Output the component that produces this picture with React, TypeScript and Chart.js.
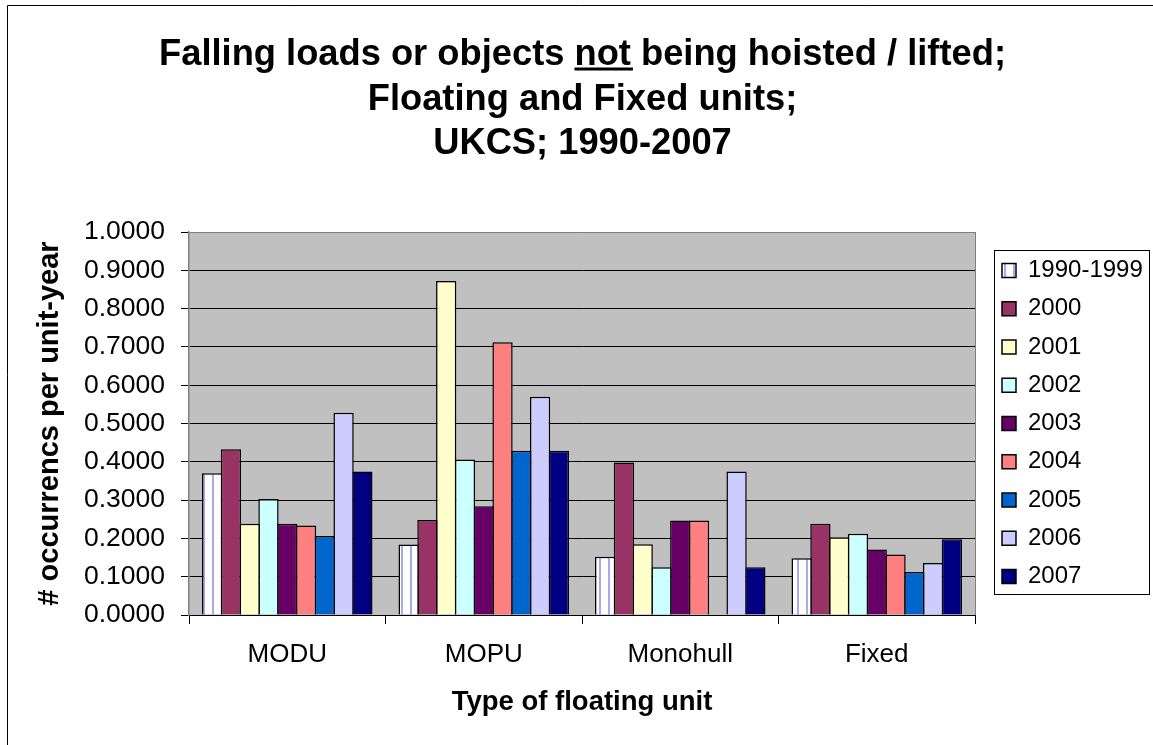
import React, { useEffect, useRef } from "react";
import { Chart, registerables } from "chart.js";

Chart.register(...registerables);

const FONT = "'Liberation Sans', Arial, sans-serif";

const TITLE_LINES = [
  "Falling loads or objects not being hoisted / lifted;",
  "Floating and Fixed units;",
  "UKCS; 1990-2007",
];
const UNDERLINED_WORD = "not";
const UNDERLINE_PREFIX = "Falling loads or objects ";

const CATEGORIES = ["MODU", "MOPU", "Monohull", "Fixed"];
const Y_TITLE = "# occurrencs per unit-year";
const X_TITLE = "Type of floating unit";

const SERIES_LABELS = ["1990-1999", "2000", "2001", "2002", "2003", "2004", "2005", "2006", "2007"];

const V_1990_1999 = [0.370, 0.184, 0.152, 0.148];
const V_2000 = [0.433, 0.248, 0.398, 0.238];
const V_2001 = [0.238, 0.872, 0.185, 0.203];
const V_2002 = [0.303, 0.406, 0.125, 0.212];
const V_2003 = [0.238, 0.284, 0.247, 0.171];
const V_2004 = [0.234, 0.712, 0.247, 0.158];
const V_2005 = [0.206, 0.429, null, 0.112];
const V_2006 = [0.528, 0.570, 0.375, 0.136];
const V_2007 = [0.375, 0.429, 0.125, 0.198];

const SERIES_VALUES = [V_1990_1999, V_2000, V_2001, V_2002, V_2003, V_2004, V_2005, V_2006, V_2007];
const SERIES_COLORS = ["pattern", "#993366", "#FFFFCC", "#CCFFFF", "#660066", "#FF8080", "#0066CC", "#CCCCFF", "#000080"];

const Y_MIN = 0;
const Y_MAX = 1;
const Y_STEP = 0.1;

function makeStripePattern(ctx: CanvasRenderingContext2D) {
  const c = document.createElement("canvas");
  c.width = 9;
  c.height = 9;
  const p = c.getContext("2d")!;
  p.fillStyle = "#ffffff";
  p.fillRect(0, 0, 9, 9);
  p.fillStyle = "#a9a9f2";
  p.fillRect(5, 0, 2, 9);
  return ctx.createPattern(c, "repeat");
}

export default function App() {
  const canvasRef = useRef<HTMLCanvasElement | null>(null);

  useEffect(() => {
    const canvas = canvasRef.current;
    if (!canvas) return;
    const ctx = canvas.getContext("2d")!;
    const stripe = makeStripePattern(ctx);

    const datasets = SERIES_LABELS.map((label, i) => ({
      label,
      data: SERIES_VALUES[i],
      backgroundColor: SERIES_COLORS[i] === "pattern" ? (stripe as any) : SERIES_COLORS[i],
      borderColor: "#000000",
      borderWidth: 1.5,
      barPercentage: 1.08,
      categoryPercentage: 0.86,
    }));

    const framePlugin = {
      id: "framePlugin",
      beforeLayout(chart: any) {
        const lg = chart.legend;
        if (lg && !lg.__patched) {
          const orig = lg.fit.bind(lg);
          lg.fit = function () {
            orig();
            this.width = 178;
          };
          lg.__patched = true;
        }
      },
      afterLayout(chart: any) {
        const lg = chart.legend;
        if (lg) {
          const pad = lg.options.labels.padding;
          lg.left = 1002 - pad;
          lg.right = lg.left + lg.width;
        }
      },
      beforeDraw(chart: any) {
        const c = chart.ctx;
        const a = chart.chartArea;
        c.save();
        c.fillStyle = "#ffffff";
        c.fillRect(0, 0, chart.width, chart.height);
        c.strokeStyle = "#000000";
        c.lineWidth = 1;
        c.beginPath();
        c.moveTo(7.5, chart.height);
        c.lineTo(7.5, 5.5);
        c.lineTo(chart.width, 5.5);
        c.stroke();
        c.fillStyle = "#C0C0C0";
        c.fillRect(a.left, a.top, a.right - a.left, a.bottom - a.top);
        c.restore();
      },
      afterDraw(chart: any) {
        const c = chart.ctx;
        const a = chart.chartArea;
        c.save();
        c.strokeStyle = "#808080";
        c.lineWidth = 1;
        c.beginPath();
        c.moveTo(Math.round(a.right) + 0.5, a.top);
        c.lineTo(Math.round(a.right) + 0.5, a.bottom);
        c.stroke();

        const lg = chart.legend;
        const hbs = lg && lg.legendHitBoxes;
        if (hbs && hbs.length) {
          const first = hbs[0];
          const last = hbs[hbs.length - 1];
          let maxRight = 0;
          for (const h of hbs) maxRight = Math.max(maxRight, h.left + h.width);
          const l = Math.round(first.left - 8) + 0.5;
          const t = Math.round(first.top - 8.5) + 0.5;
          const r = Math.round(maxRight + 6) + 0.5;
          const b = Math.round(last.top + last.height + 5) + 0.5;
          c.strokeStyle = "#000000";
          c.lineWidth = 1;
          c.strokeRect(l, t, r - l, b - t);
        }

        const tb = chart.titleBlock;
        if (tb) {
          const opts = tb.options;
          const size = opts.font.size;
          const lh = size * opts.font.lineHeight;
          c.font = `bold ${size}px ${FONT}`;
          c.textBaseline = "middle";
          const full = c.measureText(TITLE_LINES[0]).width;
          const pre = c.measureText(UNDERLINE_PREFIX).width;
          const w = c.measureText(UNDERLINED_WORD).width;
          const desc = c.measureText("n").actualBoundingBoxDescent;
          const cx = (tb.left + tb.right) / 2;
          const midY = tb.top + opts.padding.top + lh / 2;
          const x0 = cx - full / 2 + pre;
          c.fillStyle = "#000000";
          c.fillRect(x0, midY + desc + 2.5, w + 2, 3);
        }
        c.restore();
      },
    };

    const chart = new Chart(canvas, {
      type: "bar",
      data: { labels: CATEGORIES, datasets },
      options: {
        responsive: false,
        animation: false,
        layout: { padding: { left: 12, right: 0, top: 0, bottom: 0 } },
        plugins: {
          title: {
            display: true,
            text: TITLE_LINES,
            color: "#000000",
            font: { family: FONT, size: 36.3, weight: "bold", lineHeight: 1.226 },
            padding: { top: 32.75, bottom: 65.75 },
          },
          legend: {
            position: "right",
            fullSize: false,
            labels: {
              color: "#000000",
              font: { family: FONT, size: 24 },
              boxWidth: 14,
              boxHeight: 14,
              padding: 14.25,
            },
          },
          tooltip: { enabled: false },
        },
        scales: {
          x: {
            offset: true,
            ticks: { color: "#000000", font: { family: FONT, size: 26 }, padding: 15 },
            grid: { offset: true, drawOnChartArea: false, color: "#000000", tickColor: "#000000", tickLength: 9 },
            border: { color: "#000000", width: 1 },
            title: {
              display: true,
              text: X_TITLE,
              color: "#000000",
              font: { family: FONT, size: 27.5, weight: "bold" },
              padding: { top: 0, bottom: 26 },
            },
            afterFit: (s: any) => {
              s.height = 130;
            },
          },
          y: {
            min: Y_MIN,
            max: Y_MAX,
            ticks: {
              stepSize: Y_STEP,
              color: "#000000",
              font: { family: FONT, size: 26.5 },
              padding: 16,
              callback: (v: any) => Number(v).toFixed(4),
            },
            grid: {
              color: (c: any) => (c.tick && Math.abs(c.tick.value - Y_MAX) < 1e-9 ? "#808080" : "#000000"),
              tickColor: "#000000",
              tickLength: 8,
              lineWidth: 1,
            },
            border: { color: "#808080", width: 1.5 },
            title: {
              display: true,
              text: Y_TITLE,
              color: "#000000",
              font: { family: FONT, size: 29, weight: "bold" },
              padding: { top: 20.6, bottom: 0 },
            },
            afterFit: (s: any) => {
              s.width = 177;
            },
          },
        },
      },
      plugins: [framePlugin],
    } as any);

    return () => chart.destroy();
  }, []);

  return (
    <div style={{ position: "absolute", left: 0, top: 0, width: 1153, height: 745, background: "#fff" }}>
      <canvas ref={canvasRef} width={1153} height={745} style={{ display: "block" }} />
    </div>
  );
}
